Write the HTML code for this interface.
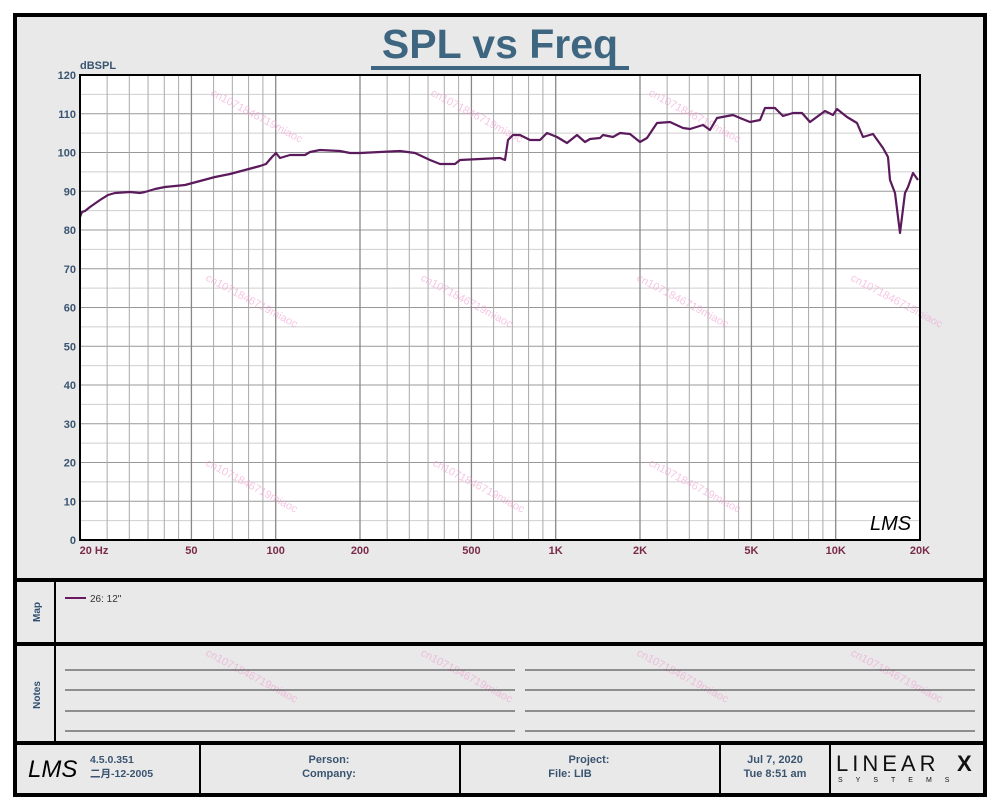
<!DOCTYPE html>
<html><head><meta charset="utf-8"><style>
body{margin:0;background:#fff;}
svg text{font-family:"Liberation Sans","Noto Sans CJK SC",sans-serif;}
</style></head><body>
<svg id="s" width="1000" height="800" xmlns="http://www.w3.org/2000/svg">
<rect x="0" y="0" width="1000" height="800" fill="#fff"/>
<rect x="15" y="15" width="970" height="780" fill="#e9e9e9" stroke="#000" stroke-width="4"/>
<text x="500" y="58" text-anchor="middle" font-size="41" font-weight="bold" fill="#3e6680">SPL vs Freq</text>
<rect x="371" y="66" width="258" height="4" fill="#3e6680"/>
<text x="80" y="69" font-size="11" font-weight="bold" fill="#3a5470">dBSPL</text>
<rect x="80" y="75" width="840" height="465" fill="#fff"/>
<g id="grid"></g>
<g id="wm" fill="#f0a0d0" font-size="11" opacity="0.6"></g>
<path id="curve" fill="none" stroke="#5a1a5c" stroke-width="2.2" stroke-linejoin="round"/>
<rect x="80" y="75" width="840" height="465" fill="none" stroke="#000" stroke-width="2"/>
<text x="870" y="530" font-size="20" font-style="italic" font-family="Liberation Serif,serif" fill="#000">LMS</text>
<g id="labels" font-size="11" font-weight="bold"></g>
<rect x="15" y="578" width="970" height="4" fill="#000"/>
<rect x="15" y="642" width="970" height="4" fill="#000"/>
<rect x="15" y="741" width="970" height="4" fill="#000"/>
<rect x="54" y="580" width="2" height="163" fill="#000"/>
<text transform="translate(40,612) rotate(-90)" text-anchor="middle" font-size="10" font-weight="bold" fill="#2f4f6f">Map</text>
<text transform="translate(40,695) rotate(-90)" text-anchor="middle" font-size="10" font-weight="bold" fill="#2f4f6f">Notes</text>
<line x1="65" y1="598" x2="86" y2="598" stroke="#6a1a60" stroke-width="2"/>
<text x="90" y="602" font-size="10" fill="#333">26: 12"</text>
<g stroke="#333" stroke-width="1">
<line x1="65" y1="670" x2="515" y2="670"/><line x1="525" y1="670" x2="975" y2="670"/>
<line x1="65" y1="690" x2="515" y2="690"/><line x1="525" y1="690" x2="975" y2="690"/>
<line x1="65" y1="711" x2="515" y2="711"/><line x1="525" y1="711" x2="975" y2="711"/>
<line x1="65" y1="731" x2="515" y2="731"/><line x1="525" y1="731" x2="975" y2="731"/>
</g>
<g fill="#000"><rect x="199" y="743" width="2" height="52"/><rect x="459" y="743" width="2" height="52"/><rect x="719" y="743" width="2" height="52"/><rect x="829" y="743" width="2" height="52"/></g>
<text x="28" y="777" font-size="24" font-style="italic" font-family="Liberation Serif,serif" fill="#000">LMS</text>
<text x="90" y="763" font-size="10.5" font-weight="bold" fill="#3a5470">4.5.0.351</text>
<text x="90" y="777" font-size="10.5" font-weight="bold" fill="#3a5470">二月-12-2005</text>
<text x="329" y="763" text-anchor="middle" font-size="11" font-weight="bold" fill="#3a5470">Person:</text>
<text x="329" y="777" text-anchor="middle" font-size="11" font-weight="bold" fill="#3a5470">Company:</text>
<text x="589" y="763" text-anchor="middle" font-size="11" font-weight="bold" fill="#3a5470">Project:</text>
<text x="570" y="777" text-anchor="middle" font-size="11" font-weight="bold" fill="#3a5470">File: LIB</text>
<text x="775" y="763" text-anchor="middle" font-size="11" font-weight="bold" fill="#3a5470">Jul  7, 2020</text>
<text x="775" y="777" text-anchor="middle" font-size="11" font-weight="bold" fill="#3a5470">Tue  8:51 am</text>
<text x="836" y="771" font-size="22" font-family="Liberation Serif,serif" fill="#111" letter-spacing="4">LINEAR</text>
<text x="957" y="771" font-size="22" font-weight="bold" fill="#111">X</text>
<text x="838" y="782" font-size="7" fill="#111" letter-spacing="13">SYSTEMS</text>
</svg>
<script>
var NS="http://www.w3.org/2000/svg";
function el(p,t,a,txt){var e=document.createElementNS(NS,t);for(var k in a)e.setAttribute(k,a[k]);if(txt)e.textContent=txt;document.getElementById(p).appendChild(e);return e;}
function fx(f){return 80+280*Math.log10(f/20);}
function fy(d){return 540-d*465/120;}
for(var d=5;d<120;d+=5){var y=fy(d);el("grid","line",{x1:80,x2:920,y1:y,y2:y,stroke:d%10?"#cfcfcf":"#999","stroke-width":1});}
var mults=[2,2.5,3,3.5,4,4.5,5,6,7,8,9,10];
[10,100,1000].forEach(function(dec){mults.forEach(function(m){var f=m*dec;if(f<=20||f>=20000)return;var x=fx(f);
var major=(m==10||m==2||m==5);el("grid","line",{x1:x,x2:x,y1:75,y2:540,stroke:major?"#888":"#aaa","stroke-width":major?1.3:1});});});
for(var d=0;d<=120;d+=10){el("labels","text",{x:76,y:fy(d)+4,"text-anchor":"end",fill:"#3a5470"},String(d));}
[[20,"20  Hz"],[50,"50"],[100,"100"],[200,"200"],[500,"500"],[1000,"1K"],[2000,"2K"],[5000,"5K"],[10000,"10K"],[20000,"20K"]].forEach(function(p){
el("labels","text",{x:p[0]==20?94:fx(p[0]),y:554,"text-anchor":"middle",fill:"#7a2a4a"},p[1]);});
var pts=[[80,217],[82,212],[85,211],[90,207],[100,200],[108,195],[115,193],[130,192],[140,193],[145,192],[155,189],[165,187],[175,186],[185,185],[200,181],[215,177],[230,174],[245,170],[260,166],[266,164],[272,157],[276,153],[280,158],[290,155],[305,155],[310,152],[320,150],[340,151],[350,153],[360,153],[380,152],[400,151],[415,153],[430,160],[440,164],[455,164],[460,160],[480,159],[500,158],[505,160],[508,140],[513,135],[520,135],[530,140],[540,140],[547,133],[557,137],[567,143],[577,135],[585,142],[590,139],[600,138],[603,135],[613,137],[620,133],[630,134],[640,142],[647,138],[657,123],[670,122],[683,128],[690,129],[703,125],[710,130],[717,118],[733,115],[740,118],[750,122],[760,120],[765,108],[775,108],[783,116],[793,113],[802,113],[810,122],[825,111],[833,115],[837,109],[847,117],[857,123],[863,137],[873,134],[883,148],[888,157],[890,180],[895,193],[900,233],[905,193],[908,187],[913,173],[918,180]];
document.getElementById("curve").setAttribute("d","M"+pts.map(function(p){return p.join(",")}).join(" L"));
[[210,95],[430,95],[648,95],[205,280],[420,280],[636,280],[850,280],[205,465],[432,465],[648,465],[205,655],[420,655],[636,655],[850,655]].forEach(function(p){
el("wm","text",{x:p[0],y:p[1],transform:"rotate(28 "+p[0]+" "+p[1]+")"},"cn1071846719miaoc");});
</script>
</body></html>
